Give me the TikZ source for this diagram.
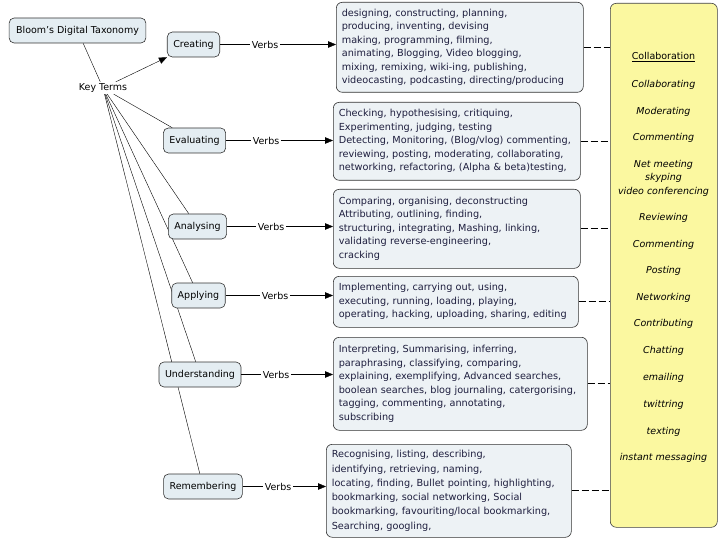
\documentclass[tikz,border=0pt]{standalone}
\usepackage{fontspec}
\setmainfont{DejaVu Sans}
\usetikzlibrary{arrows.meta,backgrounds}

\definecolor{levelfill}{HTML}{E4EDF2}
\definecolor{boxfill}{HTML}{EDF2F5}
\definecolor{boxtext}{HTML}{1E1E3E}
\definecolor{collabfill}{HTML}{FBF8A0}

\begin{document}
\begin{tikzpicture}[x=1pt,y=-1pt,
		every node/.style={font=\fontsize{9.5}{13.5}\selectfont},
		level/.style={draw=black!80,line width=0.6pt,fill=levelfill,rounded corners=5pt,minimum height=25pt,inner xsep=6pt,inner ysep=2pt},
		verbbox/.style={draw=black!80,line width=0.6pt,fill=boxfill,rounded corners=6pt,anchor=north west,align=left,inner xsep=5.5pt,inner ysep=2pt,text=boxtext,font=\fontsize{9.7}{13.5}\selectfont},
		verblabel/.style={inner sep=1.5pt},
		collabitem/.style={font=\fontsize{9.5}{13.5}\selectfont\itshape,align=center,inner sep=1pt},
		tip/.style={-{Triangle[length=8pt,width=6.5pt]}},
		link/.style={dash pattern=on 7pt off 3pt,line width=1.1pt}]
				 %\draw[color=gray,step=10pt, help lines,opacity=0.3] (0,0) grid (720,540); %help grids
				 \useasboundingbox (0,0) rectangle (720,540);
				 % top
				 \node[level,inner xsep=7pt] (title) at (77.5,30.5) {Bloom's Digital Taxonomy};
				 \node[inner sep=1.5pt] (keyterms) at (103,88) {Key Terms};
				 % levels
				 \node[level] (creating) at (193.5,44.5) {Creating};
				 \node[level] (evaluating) at (194.5,140.5) {Evaluating};
				 \node[level] (analysing) at (197.5,226.5) {Analysing};
				 \node[level] (applying) at (198.5,295.5) {Applying};
				 \node[level] (understanding) at (200,374.5) {Understanding};
				 \node[level] (remembering) at (203,486.5) {Remembering};
				 % verb boxes
				 \node[verbbox,minimum width=247,minimum height=90,text width=236] (create box) at (336,2)
					{designing, constructing, planning,\\
					 producing, inventing, devising\\
					 making, programming, filming,\\
					 animating, Blogging, Video blogging,\\
					 mixing, remixing, wiki-ing, publishing,\\
					 videocasting, podcasting, directing/producing};
				 \node[verbbox,minimum width=247,minimum height=78,text width=236] (evaluate box) at (333,102)
					{Checking, hypothesising, critiquing,\\
					 Experimenting, judging, testing\\
					 Detecting, Monitoring, (Blog/vlog) commenting,\\
					 reviewing, posting, moderating, collaborating,\\
					 networking, refactoring, (Alpha \& beta)testing,};
				 \node[verbbox,minimum width=247,minimum height=79,text width=236] (analyse box) at (333,189)
					{Comparing, organising, deconstructing\\
					 Attributing, outlining, finding,\\
					 structuring, integrating, Mashing, linking,\\
					 validating reverse-engineering,\\
					 cracking};
				 \node[verbbox,minimum width=245,minimum height=51,text width=234] (apply box) at (333,276)
					{Implementing, carrying out, using,\\
					 executing, running, loading, playing,\\
					 operating, hacking, uploading, sharing, editing};
				 \node[verbbox,minimum width=254,minimum height=93,text width=243] (understand box) at (333,337)
					{Interpreting, Summarising, inferring,\\
					 paraphrasing, classifying, comparing,\\
					 explaining, exemplifying, Advanced searches,\\
					 boolean searches, blog journaling, catergorising,\\
					 tagging, commenting, annotating,\\
					 subscribing};
				 \node[verbbox,minimum width=245,minimum height=93,text width=234,font=\fontsize{9.7}{14.3}\selectfont] (remember box) at (326,444)
					{Recognising, listing, describing,\\
					 identifying, retrieving, naming,\\
					 locating, finding, Bullet pointing, highlighting,\\
					 bookmarking, social networking, Social\\
					 bookmarking, favouriting/local bookmarking,\\
					 Searching, googling,};
				 % collaboration column
				 \node[draw=black!75,line width=0.6pt,fill=collabfill,rounded corners=6pt,anchor=north west,minimum width=107,minimum height=524] (collab) at (610,3) {};
				 \node[inner sep=1pt] (collab head) at (663.5,57) {\underline{Collaboration}};
				 \node[collabitem] (c1) at (663.5,85) {Collaborating};
				 \node[collabitem] (c2) at (663.5,112) {Moderating};
				 \node[collabitem] (c3) at (663.5,138) {Commenting};
				 \node[collabitem] (c4) at (663.5,178) {Net meeting\\skyping\\video conferencing};
				 \node[collabitem] (c5) at (663.5,218) {Reviewing};
				 \node[collabitem] (c6) at (663.5,245) {Commenting};
				 \node[collabitem] (c7) at (663.5,271) {Posting};
				 \node[collabitem] (c8) at (663.5,298) {Networking};
				 \node[collabitem] (c9) at (663.5,324) {Contributing};
				 \node[collabitem] (c10) at (663.5,351) {Chatting};
				 \node[collabitem] (c11) at (663.5,378) {emailing};
				 \node[collabitem] (c12) at (663.5,405) {twittring};
				 \node[collabitem] (c13) at (663.5,432) {texting};
				 \node[collabitem] (c14) at (663.5,458) {instant messaging};
				 % verbs labels
				 \node[verblabel] (v1) at (265,44.5) {Verbs};
				 \node[verblabel] (v2) at (266,140.5) {Verbs};
				 \node[verblabel] (v3) at (271,226.5) {Verbs};
				 \node[verblabel] (v4) at (275,295.5) {Verbs};
				 \node[verblabel] (v5) at (276,374.5) {Verbs};
				 \node[verblabel] (v6) at (278,486.5) {Verbs};
				 \draw (creating) -- (v1);
				 \draw[tip] (v1) -- (v1 -| create box.west);
				 \draw (evaluating) -- (v2);
				 \draw[tip] (v2) -- (v2 -| evaluate box.west);
				 \draw (analysing) -- (v3);
				 \draw[tip] (v3) -- (v3 -| analyse box.west);
				 \draw (applying) -- (v4);
				 \draw[tip] (v4) -- (v4 -| apply box.west);
				 \draw (understanding) -- (v5);
				 \draw[tip] (v5) -- (v5 -| understand box.west);
				 \draw (remembering) -- (v6);
				 \draw[tip] (v6) -- (v6 -| remember box.west);
				 % key terms
				 \begin{scope}[on background layer]
				 \draw (title) -- (keyterms);
				 \draw (keyterms) -- (evaluating);
				 \draw (keyterms) -- (analysing);
				 \draw (keyterms) -- (applying);
				 \draw (keyterms) -- (understanding);
				 \draw (keyterms) -- (remembering);
				 \end{scope}
				 \draw[tip] (keyterms) -- (creating);
				 % to collaboration
				 \draw[link] (create box.east) -- (create box.east -| collab.west);
				 \draw[link] (evaluate box.east) -- (evaluate box.east -| collab.west);
				 \draw[link] (analyse box.east) -- (analyse box.east -| collab.west);
				 \draw[link] (apply box.east) -- (apply box.east -| collab.west);
				 \draw[link] (understand box.east) -- (understand box.east -| collab.west);
				 \draw[link] (remember box.east) -- (remember box.east -| collab.west);
				\end{tikzpicture}
\end{document}
